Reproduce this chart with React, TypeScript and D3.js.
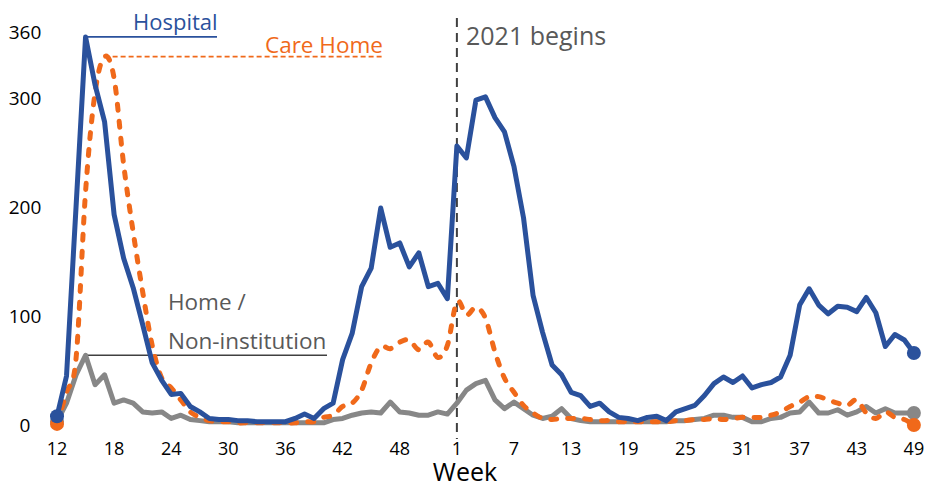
import React from "react";
import * as d3 from "d3";

const weekLabels: number[] = [
  ...d3.range(12, 54),
  ...d3.range(1, 50),
];

const tickLabels = ["12", "18", "24", "30", "36", "42", "48", "1", "7", "13", "19", "25", "31", "37", "43", "49"];
const yTicks = [0, 100, 200, 300, 360];

const hospital = [
  8, 45, 200, 356, 312, 278, 193, 153, 126, 92,
  57, 41, 28, 29, 17, 12, 6, 5, 5, 4,
  4, 3, 3, 3, 3, 6, 10, 6, 15, 20,
  60, 84, 127, 144, 199, 163, 167, 145, 158, 127,
  130, 116, 256, 245, 298, 301, 282, 269, 237, 190,
  119, 85, 55, 46, 30, 27, 17, 20, 12, 7,
  6, 4, 7, 8, 4, 12, 15, 18, 27, 38,
  44, 39, 45, 34, 37, 39, 44, 64, 110, 125,
  110, 102, 109, 108, 104, 117, 103, 72, 83, 78,
  66,
];

const careHome = [
  1, 30, 61, 214, 305, 338, 318, 239, 177, 122,
  73, 43, 34, 23, 12, 7, 4, 3, 3, 2,
  2, 2, 2, 2, 2, 2, 3, 3, 7, 9,
  17, 20, 32, 57, 72, 70, 76, 78, 69, 76,
  62, 73, 113, 101, 108, 98, 67, 43, 30, 18,
  11, 6, 5, 6, 6, 6, 5, 4, 4, 3,
  3, 3, 3, 3, 3, 4, 4, 5, 5, 6,
  5, 6, 7, 7, 7, 9, 12, 17, 21, 26,
  26, 23, 20, 18, 23, 11, 6, 12, 7, 5,
  0,
];

const home = [
  3, 20, 46, 64, 37, 46, 20, 23, 20, 12,
  11, 12, 6, 9, 5, 4, 3, 3, 3, 2,
  2, 2, 2, 2, 2, 2, 2, 2, 2, 5,
  6, 9, 11, 12, 11, 21, 12, 11, 9, 9,
  12, 10, 20, 32, 38, 41, 23, 15, 21, 15,
  9, 6, 8, 15, 6, 4, 3, 3, 3, 3,
  3, 3, 3, 3, 3, 4, 4, 5, 6, 9,
  9, 7, 7, 3, 3, 6, 7, 11, 12, 21,
  11, 11, 14, 9, 12, 17, 11, 15, 11, 11,
  11,
];

const BLUE = "#2a519c";
const ORANGE = "#f0691a";
const GRAY = "#878787";
const FONT = "'Open Sans', 'Noto Sans', sans-serif";

export default function App() {
  const W = 936, H = 488;
  const n = weekLabels.length;
  const x = d3.scaleLinear().domain([0, n - 1]).range([57, 913.9]);
  const y = d3.scaleLinear().domain([0, 360]).range([425, 32.6]);

  const straight = d3.line<number>().x((_, i) => x(i)).y((d) => y(d));
  const smooth = d3
    .line<number>()
    .x((_, i) => x(i))
    .y((d) => y(d))
    .curve(d3.curveCatmullRom.alpha(0));

  const yearIdx = weekLabels.indexOf(1);
  const hMaxI = d3.maxIndex(hospital);
  const cMaxI = d3.maxIndex(careHome);
  const gMaxI = d3.maxIndex(home);

  const last = n - 1;

  return (
    <svg width={W} height={H} style={{ position: "absolute", left: 0, top: 0, background: "#fff" }} fontFamily={FONT}>
      {/* y tick labels */}
      {yTicks.map((t) => (
        <text key={t} x={25} y={y(t)} dy="0.35em" textAnchor="middle" fontSize={19} fill="#000">
          {t}
        </text>
      ))}
      {/* x tick labels */}
      {tickLabels.map((t, k) => (
        <text key={k} x={x(k * 6)} y={455} textAnchor="middle" fontSize={18} fill="#000">
          {t}
        </text>
      ))}
      <text x={465} y={481} textAnchor="middle" fontSize={25} fill="#000">Week</text>

      {/* 2021 marker */}
      <line x1={x(yearIdx)} x2={x(yearIdx)} y1={18} y2={439} stroke="#404040" strokeWidth={2} strokeDasharray="9 6" />
      <text x={466} y={45} fontSize={25} fill="#595959">2021 begins</text>

      {/* leader lines & labels */}
      <line x1={x(hMaxI)} x2={217} y1={y(hospital[hMaxI])} y2={y(hospital[hMaxI])} stroke={BLUE} strokeWidth={1.8} />
      <text x={133} y={30} fontSize={22} fill={BLUE}>Hospital</text>
      <line x1={x(cMaxI)} x2={383} y1={y(careHome[cMaxI])} y2={y(careHome[cMaxI])} stroke={ORANGE} strokeWidth={1.6} strokeDasharray="5 3" />
      <text x={265} y={53} fontSize={22.5} fill={ORANGE}>Care Home</text>
      <line x1={x(gMaxI)} x2={327} y1={y(home[gMaxI])} y2={y(home[gMaxI])} stroke="#404040" strokeWidth={1.4} />
      <text x={168} y={310} fontSize={22.5} fill="#595959">Home /</text>
      <text x={168} y={349} fontSize={22.5} fill="#595959">Non-institution</text>

      {/* series */}
      <path d={straight(home) || ""} fill="none" stroke={GRAY} strokeWidth={5} strokeLinejoin="round" />
      <path d={smooth(careHome) || ""} fill="none" stroke={ORANGE} strokeWidth={5} strokeDasharray="6 11" strokeLinecap="round" />
      <path d={straight(hospital) || ""} fill="none" stroke={BLUE} strokeWidth={5} strokeLinejoin="round" />

      {/* end markers */}
      <circle cx={x(0)} cy={y(home[0])} r={7} fill={GRAY} />
      <circle cx={x(last)} cy={y(home[last])} r={7} fill={GRAY} />
      <circle cx={x(0)} cy={y(careHome[0])} r={7} fill={ORANGE} />
      <circle cx={x(last)} cy={y(careHome[last])} r={7} fill={ORANGE} />
      <circle cx={x(0)} cy={y(hospital[0])} r={7} fill={BLUE} />
      <circle cx={x(last)} cy={y(hospital[last])} r={7} fill={BLUE} />
    </svg>
  );
}
